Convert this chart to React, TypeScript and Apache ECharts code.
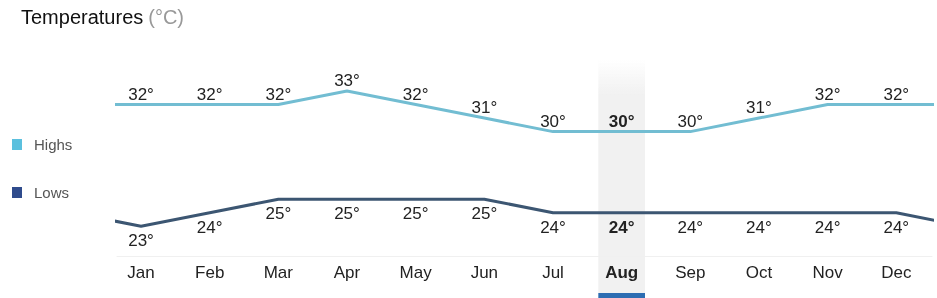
import React, { useEffect, useRef } from "react";
import * as echarts from "echarts";

const months = ["Jan", "Feb", "Mar", "Apr", "May", "Jun", "Jul", "Aug", "Sep", "Oct", "Nov", "Dec"];
const highs = [32, 32, 32, 33, 32, 31, 30, 30, 30, 31, 32, 32];
const lows = [23, 24, 25, 25, 25, 25, 24, 24, 24, 24, 24, 24];
const highlightIndex = 7;

const FONT = "'Liberation Sans', Arial, sans-serif";

function buildData(vals: number[]) {
  const n = vals.length;
  const items: any[] = [];
  items.push({ value: [-1, vals[n - 1]], label: { show: false } });
  vals.forEach((v, i) => {
    items.push({
      value: [i, v],
      label: i === highlightIndex ? { fontWeight: "bold" } : {},
    });
  });
  items.push({ value: [n, vals[0]], label: { show: false } });
  return items;
}

export default function App() {
  const ref = useRef<HTMLDivElement>(null);
  useEffect(() => {
    if (!ref.current) return;
    const chart = echarts.init(ref.current, undefined, { renderer: "svg" });
    chart.setOption({
      animation: false,
      textStyle: { fontFamily: FONT },
      title: {
        left: 16,
        top: 2,
        text: "{a|Temperatures} {b|(°C)}",
        textStyle: {
          fontWeight: "normal",
          rich: {
            a: { fontSize: 20, color: "#111", fontFamily: FONT, fontWeight: "normal" },
            b: { fontSize: 20, color: "#999", fontFamily: FONT, fontWeight: "normal" },
          },
        },
      },
      legend: {
        orient: "vertical",
        left: 12,
        top: 137,
        padding: 0,
        icon: "rect",
        itemWidth: 10,
        itemHeight: 11,
        itemGap: 33,
        textStyle: { fontSize: 15, color: "#555", fontFamily: FONT, padding: [0, 0, 0, 7] },
        data: ["Highs", "Lows"],
      },
      grid: { left: 117, right: 5, top: 64, height: 192 },
      xAxis: {
        type: "value",
        min: -0.35,
        max: 11.52,
        splitLine: { show: false },
        axisTick: { show: false },
        axisLine: { show: true, lineStyle: { color: "#f0f0f0", width: 1 } },
        axisLabel: {
          customValues: months.map((_, i) => i),
          margin: 8,
          fontSize: 17,
          color: "#222",
          fontFamily: FONT,
          formatter: (v: number) => {
            const i = Math.round(v);
            return i === highlightIndex ? "{b|" + months[i] + "}" : months[i] ?? "";
          },
          rich: { b: { fontWeight: "bold", fontSize: 17, color: "#222", fontFamily: FONT } },
        },
      },
      yAxis: { type: "value", min: 20.8, max: 35, show: false },
      series: [
        {
          name: "Highs",
          type: "line",
          z: 3,
          data: buildData(highs),
          symbol: "circle",
          symbolSize: 0,
          itemStyle: { color: "#5bc0de" },
          lineStyle: { color: "#72bdd2", width: 3 },
          label: {
            show: true,
            position: "top",
            distance: 2,
            fontSize: 17,
            color: "#222",
            fontFamily: FONT,
            formatter: (p: any) => p.value[1] + "°",
          },
        },
        {
          name: "Lows",
          type: "line",
          z: 3,
          data: buildData(lows),
          symbol: "circle",
          symbolSize: 0,
          itemStyle: { color: "#2f4b8c" },
          lineStyle: { color: "#3c5672", width: 3 },
          label: {
            show: true,
            position: "bottom",
            distance: 6,
            fontSize: 17,
            color: "#222",
            fontFamily: FONT,
            formatter: (p: any) => p.value[1] + "°",
          },
        },
      ],
    });
    const c = chart.convertToPixel({ gridIndex: 0 }, [highlightIndex, 35]) as number[];
    const c2 = chart.convertToPixel({ gridIndex: 0 }, [highlightIndex + 0.5, 35]) as number[];
    const half = (c2[0] - c[0]) * 0.68;
    const top = c[1] - 4;
    chart.setOption({
      graphic: [
        {
          type: "rect",
          z: -10,
          silent: true,
          shape: { x: c[0] - half, y: top, width: half * 2, height: 293 - top },
          style: {
            fill: new echarts.graphic.LinearGradient(0, 0, 0, 1, [
              { offset: 0, color: "rgba(240,240,240,0)" },
              { offset: 0.15, color: "#f1f1f1" },
              { offset: 1, color: "#f1f1f1" },
            ]),
          },
        },
        {
          type: "rect",
          z: -10,
          silent: true,
          shape: { x: c[0] - half, y: 293, width: half * 2, height: 5 },
          style: { fill: "#2d6db2" },
        },
      ],
    });
    return () => chart.dispose();
  }, []);
  return <div ref={ref} style={{ width: 937, height: 298, position: "fixed", left: 0, top: 0 }} />;
}
